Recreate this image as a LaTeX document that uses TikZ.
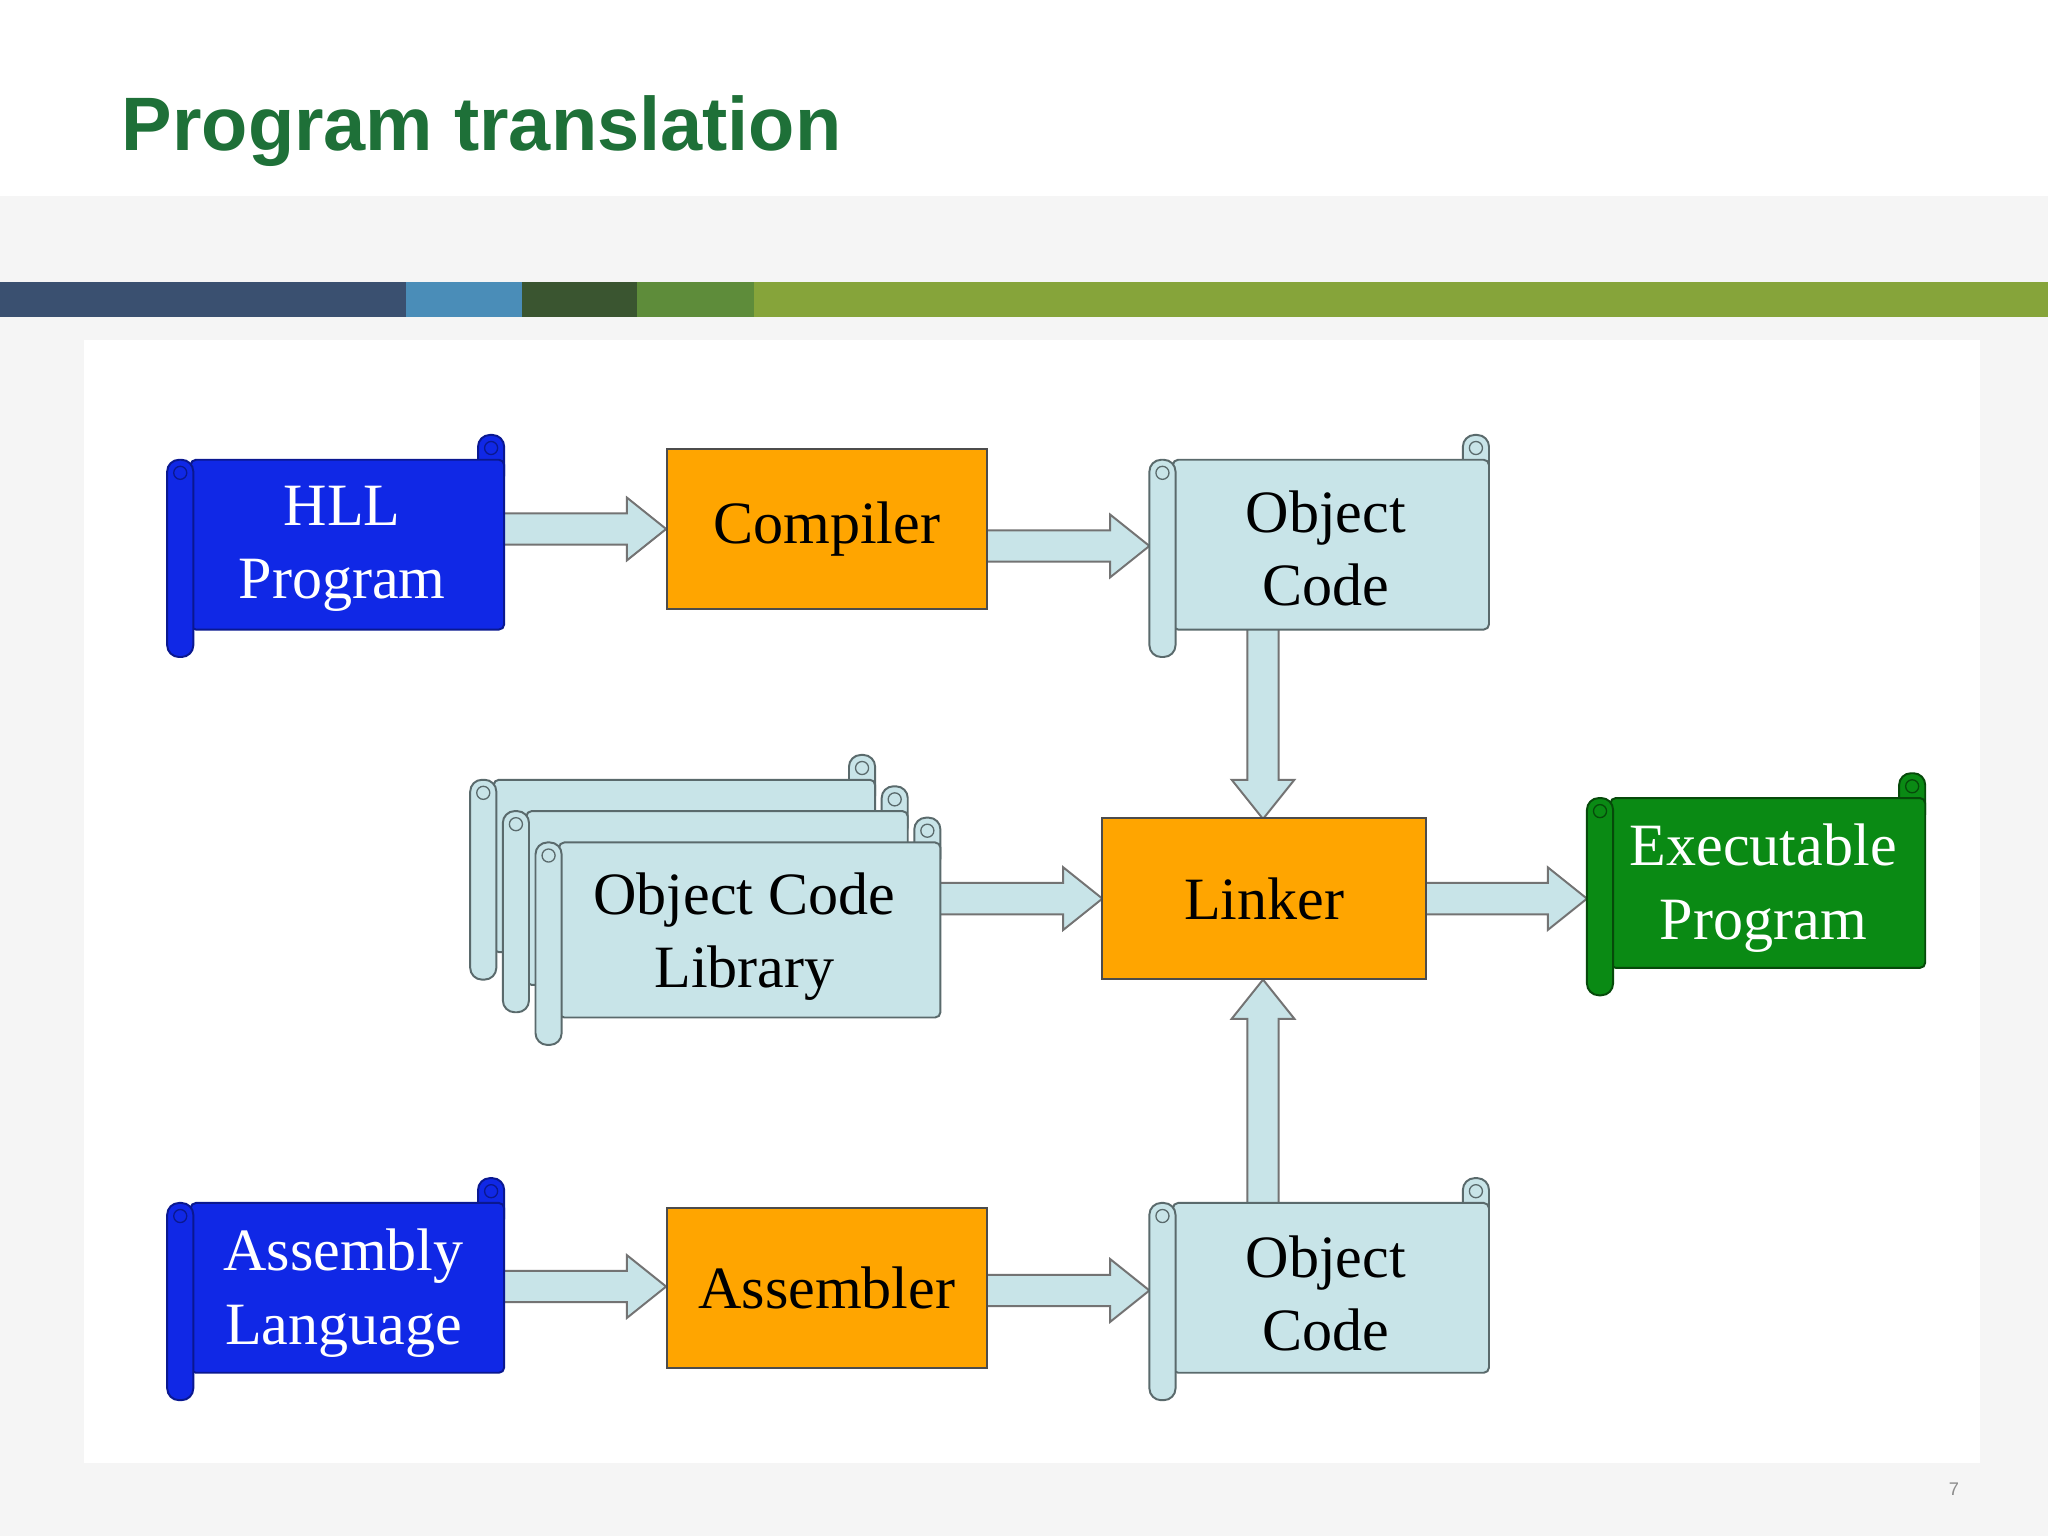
\documentclass[tikz,border=0pt]{standalone}
\usepackage{fontspec}
\setmainfont{Liberation Serif}
\newfontfamily\titlefont{Liberation Sans}
\definecolor{hll}{HTML}{1028E6}
\definecolor{hllD}{HTML}{0A1890}
\definecolor{orng}{HTML}{FFA500}
\definecolor{lblue}{HTML}{C8E4E8}
\definecolor{lblueD}{HTML}{5A6A6C}
\definecolor{exg}{HTML}{0A8A14}
\definecolor{exgD}{HTML}{064A0A}
\definecolor{ttl}{HTML}{1E7038}
\definecolor{c1}{HTML}{3A5070}\definecolor{c2}{HTML}{4A8DB8}\definecolor{c3}{HTML}{3A5530}\definecolor{c4}{HTML}{5E8C3A}\definecolor{c5}{HTML}{86A43A}
\tikzset{
  procbox/.style={draw=black!70, line width=1.5pt, fill=orng},
  arr/.style={draw=black!55, line width=1.5pt, fill=lblue},
  lbl/.style={font=\fontsize{46}{56}\selectfont, align=center, inner sep=0pt},
}
% scroll: x1 y1 x2 y2 fill draw
\newcommand\myscroll[6]{%
  \draw[#6, line width=1.5pt, fill=#5, rounded corners=9pt] (#3-20,#2) rectangle (#3,#2+40);
  \draw[#6, line width=1.5pt, fill=#5, rounded corners=4pt] (#1+18,#2+19) rectangle (#3,#4-21);
  \draw[#6, line width=1.5pt, fill=#5, rounded corners=9pt] (#1,#2+19) rectangle (#1+20,#4);
  \draw[#6, line width=1pt] (#3-10,#2+10) circle (5);
  \draw[#6, line width=1pt] (#1+10,#2+29) circle (5);
}
\begin{document}
\begin{tikzpicture}[x=1pt,y=-1pt]
\useasboundingbox (0,0) rectangle (1568,1176);
\fill[black!4] (0,0) rectangle (1568,1176);
\fill[white] (0,0) rectangle (1568,150);
\fill[white] (64,260) rectangle (1516,1120);
\node[anchor=base west, text=ttl, font=\titlefont\bfseries\fontsize{58}{60}\selectfont, inner sep=0pt] (title) at (93,115) {Program translation};
\fill[c1] (0,216) rectangle (311,243);
\fill[c2] (311,216) rectangle (400,243);
\fill[c3] (400,216) rectangle (488,243);
\fill[c4] (488,216) rectangle (577,243);
\fill[c5] (577,216) rectangle (1568,243);
\node[text=black!45, font=\titlefont\fontsize{14}{16}\selectfont] (pg) at (1496,1140) {7};

\draw[arr] (380,393)--(480,393)--(480,381)--(510,405)--(480,429)--(480,417)--(380,417)--cycle;
\draw[arr] (750,406)--(850,406)--(850,394)--(880,418)--(850,442)--(850,430)--(750,430)--cycle;
\draw[arr] (955,478)--(955,597)--(943,597)--(967,627)--(991,597)--(979,597)--(979,478)--cycle;
\draw[arr] (714,676)--(814,676)--(814,664)--(844,688)--(814,712)--(814,700)--(714,700)--cycle;
\draw[arr] (1086,676)--(1185,676)--(1185,664)--(1215,688)--(1185,712)--(1185,700)--(1086,700)--cycle;
\draw[arr] (955,925)--(955,780)--(943,780)--(967,750)--(991,780)--(979,780)--(979,925)--cycle;
\draw[arr] (380,973)--(480,973)--(480,961)--(510,985)--(480,1009)--(480,997)--(380,997)--cycle;
\draw[arr] (750,976)--(850,976)--(850,964)--(880,988)--(850,1012)--(850,1000)--(750,1000)--cycle;

\myscroll{128}{333}{386}{503}{hll}{hllD}
\node[lbl, text=white] (hllp) at (262,420) {HLL\\Program};
\node[procbox, minimum width=245, minimum height=123, lbl] (comp) at (633,405) {Compiler};
\myscroll{880}{333}{1140}{503}{lblue}{lblueD}
\node[lbl] (obj1) at (1015,420) {Object\\Code};

\myscroll{360}{578}{670}{750}{lblue}{lblueD}
\myscroll{385}{602}{695}{775}{lblue}{lblueD}
\myscroll{410}{626}{720}{800}{lblue}{lblueD}
\node[lbl] (lib) at (570,717) {Object Code\\Library};

\node[procbox, minimum width=248, minimum height=123, lbl] (link) at (968,688) {Linker};
\myscroll{1215}{592}{1474}{762}{exg}{exgD}
\node[lbl, text=white] (exe) at (1350,680) {Executable\\Program};

\myscroll{128}{902}{386}{1072}{hll}{hllD}
\node[lbl, text=white] (asm) at (263,990) {Assembly\\Language};
\node[procbox, minimum width=245, minimum height=123, lbl] (asmr) at (633,986) {Assembler};
\myscroll{880}{902}{1140}{1072}{lblue}{lblueD}
\node[lbl] (obj2) at (1015,990) {Object\\Code};
\end{tikzpicture}
\end{document}
